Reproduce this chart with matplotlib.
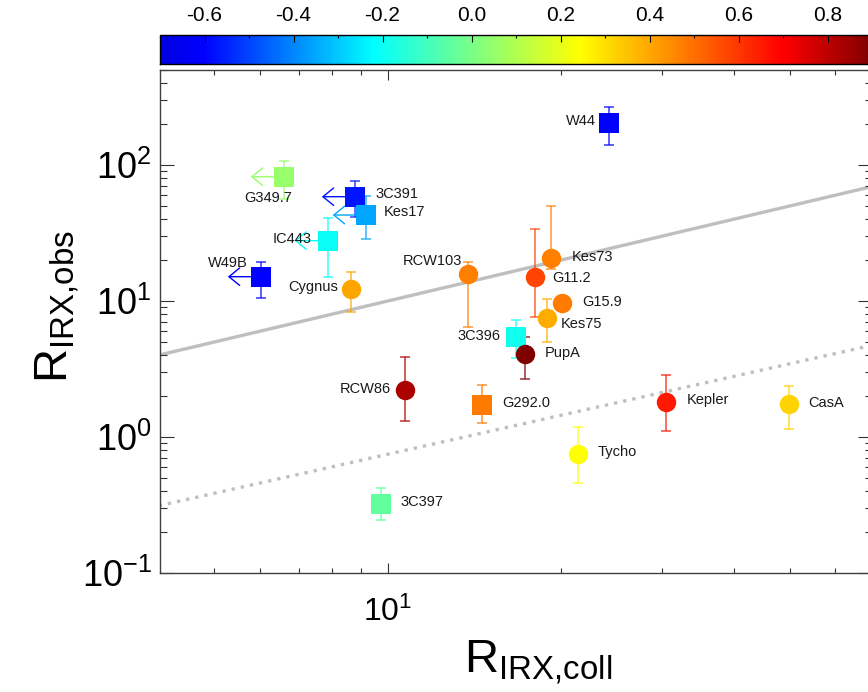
import numpy as np
import matplotlib
matplotlib.use('Agg')
import matplotlib.pyplot as plt
from matplotlib import font_manager
from matplotlib.colors import LinearSegmentedColormap, Normalize
from matplotlib.cm import ScalarMappable
from matplotlib.transforms import offset_copy

# --- data ---
names = ['W44', 'G349.7', '3C391', 'Kes17', 'IC443', 'W49B', 'Cygnus', 'RCW103',
         'Kes73', 'G11.2', 'G15.9', 'Kes75', '3C396', 'PupA', 'RCW86', 'G292.0',
         'Kepler', 'CasA', 'Tycho', '3C397']
r_coll = [24.3, 6.60, 8.77, 9.16, 7.86, 6.02, 8.63, 13.8, 19.2, 18.0, 20.1, 18.9,
          16.7, 17.35, 10.7, 14.6, 30.5, 49.9, 21.4, 9.73]
r_obs = [205, 82.0, 58.5, 42.9, 27.8, 15.1, 12.3, 15.7, 20.8, 15.1, 9.62, 7.54,
         5.46, 4.06, 2.23, 1.73, 1.82, 1.74, 0.75, 0.323]
r_obs_hi = [268, 107, 75.9, 59.5, 40.8, 19.4, 16.3, 19.5, 50.2, 33.7, np.nan, 10.3,
            7.25, 5.41, 3.89, 2.40, 2.86, 2.38, 1.18, 0.424]
r_obs_lo = [140, 56.2, 41.5, 28.7, 15.0, 10.5, 8.34, 6.44, 17.3, 7.63, np.nan, 4.97,
            3.79, 2.67, 1.32, 1.27, 1.11, 1.15, 0.461, 0.246]
color_val = [-0.6, 0.05, -0.57, -0.35, -0.2, -0.6, 0.40, 0.47, 0.47, 0.58, 0.48, 0.39,
             -0.19, 0.9, 0.83, 0.48, 0.65, 0.32, 0.24, -0.04]
is_square = [True, True, True, True, True, True, False, False, False, False, False,
             False, True, False, False, True, False, False, False, True]
x_upper = [False, True, True, True, True, True, False, False, False, False, False,
           False, False, False, False, False, False, False, False, False]

line_x = [4.0, 70.0]
line_one = [4.0, 70.0]
line_dot = [0.312, 4.76]

cbar_ticks = [-0.6, -0.4, -0.2, 0.0, 0.2, 0.4, 0.6, 0.8]

# label placement (pixels, right / down) and alignment
lab_pos = {
    'W44': (-14, -2, 'right'), 'G349.7': (-16, 21, 'center'), '3C391': (21, -3, 'left'),
    'Kes17': (18, -3, 'left'), 'IC443': (-16, -2, 'right'), 'W49B': (-13, -14, 'right'),
    'Cygnus': (-13, -2, 'right'), 'RCW103': (-6, -13, 'right'), 'Kes73': (21, -1, 'left'),
    'G11.2': (18, 1, 'left'), 'G15.9': (20, -1, 'left'), 'Kes75': (14, 6, 'left'),
    '3C396': (-15, -1, 'right'), 'PupA': (19, -1, 'left'), 'RCW86': (-14, -1, 'right'),
    'G292.0': (20, -2, 'left'), 'Kepler': (21, -2, 'left'), 'CasA': (19, -1, 'left'),
    'Tycho': (20, -2, 'left'), '3C397': (20, -2, 'left'),
}

installed = {f.name for f in font_manager.fontManager.ttflist}
narrow = 'Liberation Sans Narrow' if 'Liberation Sans Narrow' in installed else 'Liberation Sans'
plt.rcParams['font.family'] = ['Liberation Sans', 'DejaVu Sans']
plt.rcParams['mathtext.fontset'] = 'custom'
plt.rcParams['mathtext.rm'] = narrow
plt.rcParams['mathtext.it'] = narrow + ':italic'
plt.rcParams['mathtext.bf'] = narrow + ':bold'
plt.rcParams['axes.unicode_minus'] = False

cmap = LinearSegmentedColormap.from_list('idl', [
    (0.0, (0, 0, 0.88)), (0.06, (0, 0, 1)), (0.30, (0, 1, 1)), (0.445, (0.5, 1, 0.5)),
    (0.59, (1, 1, 0)), (0.875, (1, 0, 0)), (1.0, (0.5, 0, 0))])
norm = Normalize(-0.7, 0.9)

fig = plt.figure(figsize=(8.68, 6.92), dpi=100)
W, H = 868, 692
ax = fig.add_axes([160 / W, 1 - 573 / H, 712 / W, 503 / H])
cax = fig.add_axes([160 / W, 1 - 64 / H, 712 / W, 29 / H])

ax.set_xscale('log')
ax.set_yscale('log')

ax.plot(line_x, line_one, color='0.75', lw=2.4, zorder=1)
ax.plot(line_x, line_dot, color='0.75', lw=2.4, ls=(0, (1, 1.8)),
        dash_capstyle='butt', zorder=1)

for i, n in enumerate(names):
    c = cmap(norm(color_val[i]))
    x, y = r_coll[i], r_obs[i]
    if not np.isnan(r_obs_hi[i]):
        ax.errorbar([x], [y], yerr=[[y - r_obs_lo[i]], [r_obs_hi[i] - y]], fmt='none',
                    ecolor=c, elinewidth=1.1, capsize=3.5, capthick=1.1, alpha=0.8,
                    zorder=2)
    if x_upper[i]:
        tip = offset_copy(ax.transData, fig=fig, x=-33, y=0, units='dots')
        ax.annotate('', xy=(x, y), xycoords=tip, xytext=(x, y), textcoords='data',
                    arrowprops=dict(arrowstyle='->,head_length=0.55,head_width=0.45',
                                    color=c, lw=1.0, shrinkA=0, shrinkB=0,
                                    mutation_scale=14), zorder=2)
    ax.plot([x], [y], marker='s' if is_square[i] else 'o', ms=14, mew=0, color=c,
            zorder=3)
    dx, dy, ha = lab_pos[n]
    ax.annotate(n, (x, y), xytext=(dx, -dy), textcoords='offset pixels', ha=ha,
                va='center', fontsize=10.5, color='0.1', zorder=4)

ax.set_xlim(4.02, 69.5)
ax.set_ylim(0.1, 500)

ax.set_yticks([0.1, 1, 10, 100])
ax.set_yticklabels([r'$\mathregular{10^{-1}}$', r'$\mathregular{10^{0}}$',
                    r'$\mathregular{10^{1}}$', r'$\mathregular{10^{2}}$'], fontsize=26)
ax.set_xticks([10])
ax.set_xticklabels([r'$\mathregular{10^{1}}$'], fontsize=23)
ax.tick_params(which='both', direction='in', top=True, right=True, width=0.8,
               color='0.2')
ax.tick_params(axis='y', which='major', length=10, pad=6)
ax.tick_params(axis='y', which='minor', length=5)
ax.tick_params(axis='x', which='major', length=7, pad=17)
ax.tick_params(axis='x', which='minor', length=3.6, labelbottom=False)
for s in ax.spines.values():
    s.set_color('0.25')
    s.set_linewidth(1.0)

ax.set_xlabel(r'$\mathregular{R_{IRX{,}coll}}$', fontsize=34)
ax.xaxis.set_label_coords(0.531, -0.13)
ax.set_ylabel(r'$\mathregular{R_{IRX{,}obs}}$', fontsize=34)
ax.yaxis.set_label_coords(-0.11, 0.53)

cb = fig.colorbar(ScalarMappable(norm=norm, cmap=cmap), cax=cax,
                  orientation='horizontal')
cax.xaxis.set_ticks_position('top')
cax.xaxis.set_label_position('top')
cb.set_ticks(cbar_ticks)
cb.set_ticklabels(['%.1f' % t for t in cbar_ticks])
cax.set_xticks(np.arange(-0.7, 0.91, 0.1), minor=True)
cax.tick_params(which='both', direction='in', labelsize=15, width=0.8, pad=7)
cax.tick_params(which='major', length=5)
cax.tick_params(which='minor', length=2.5)
cb.outline.set_linewidth(1.0)

fig.savefig('out.png', dpi=100)
